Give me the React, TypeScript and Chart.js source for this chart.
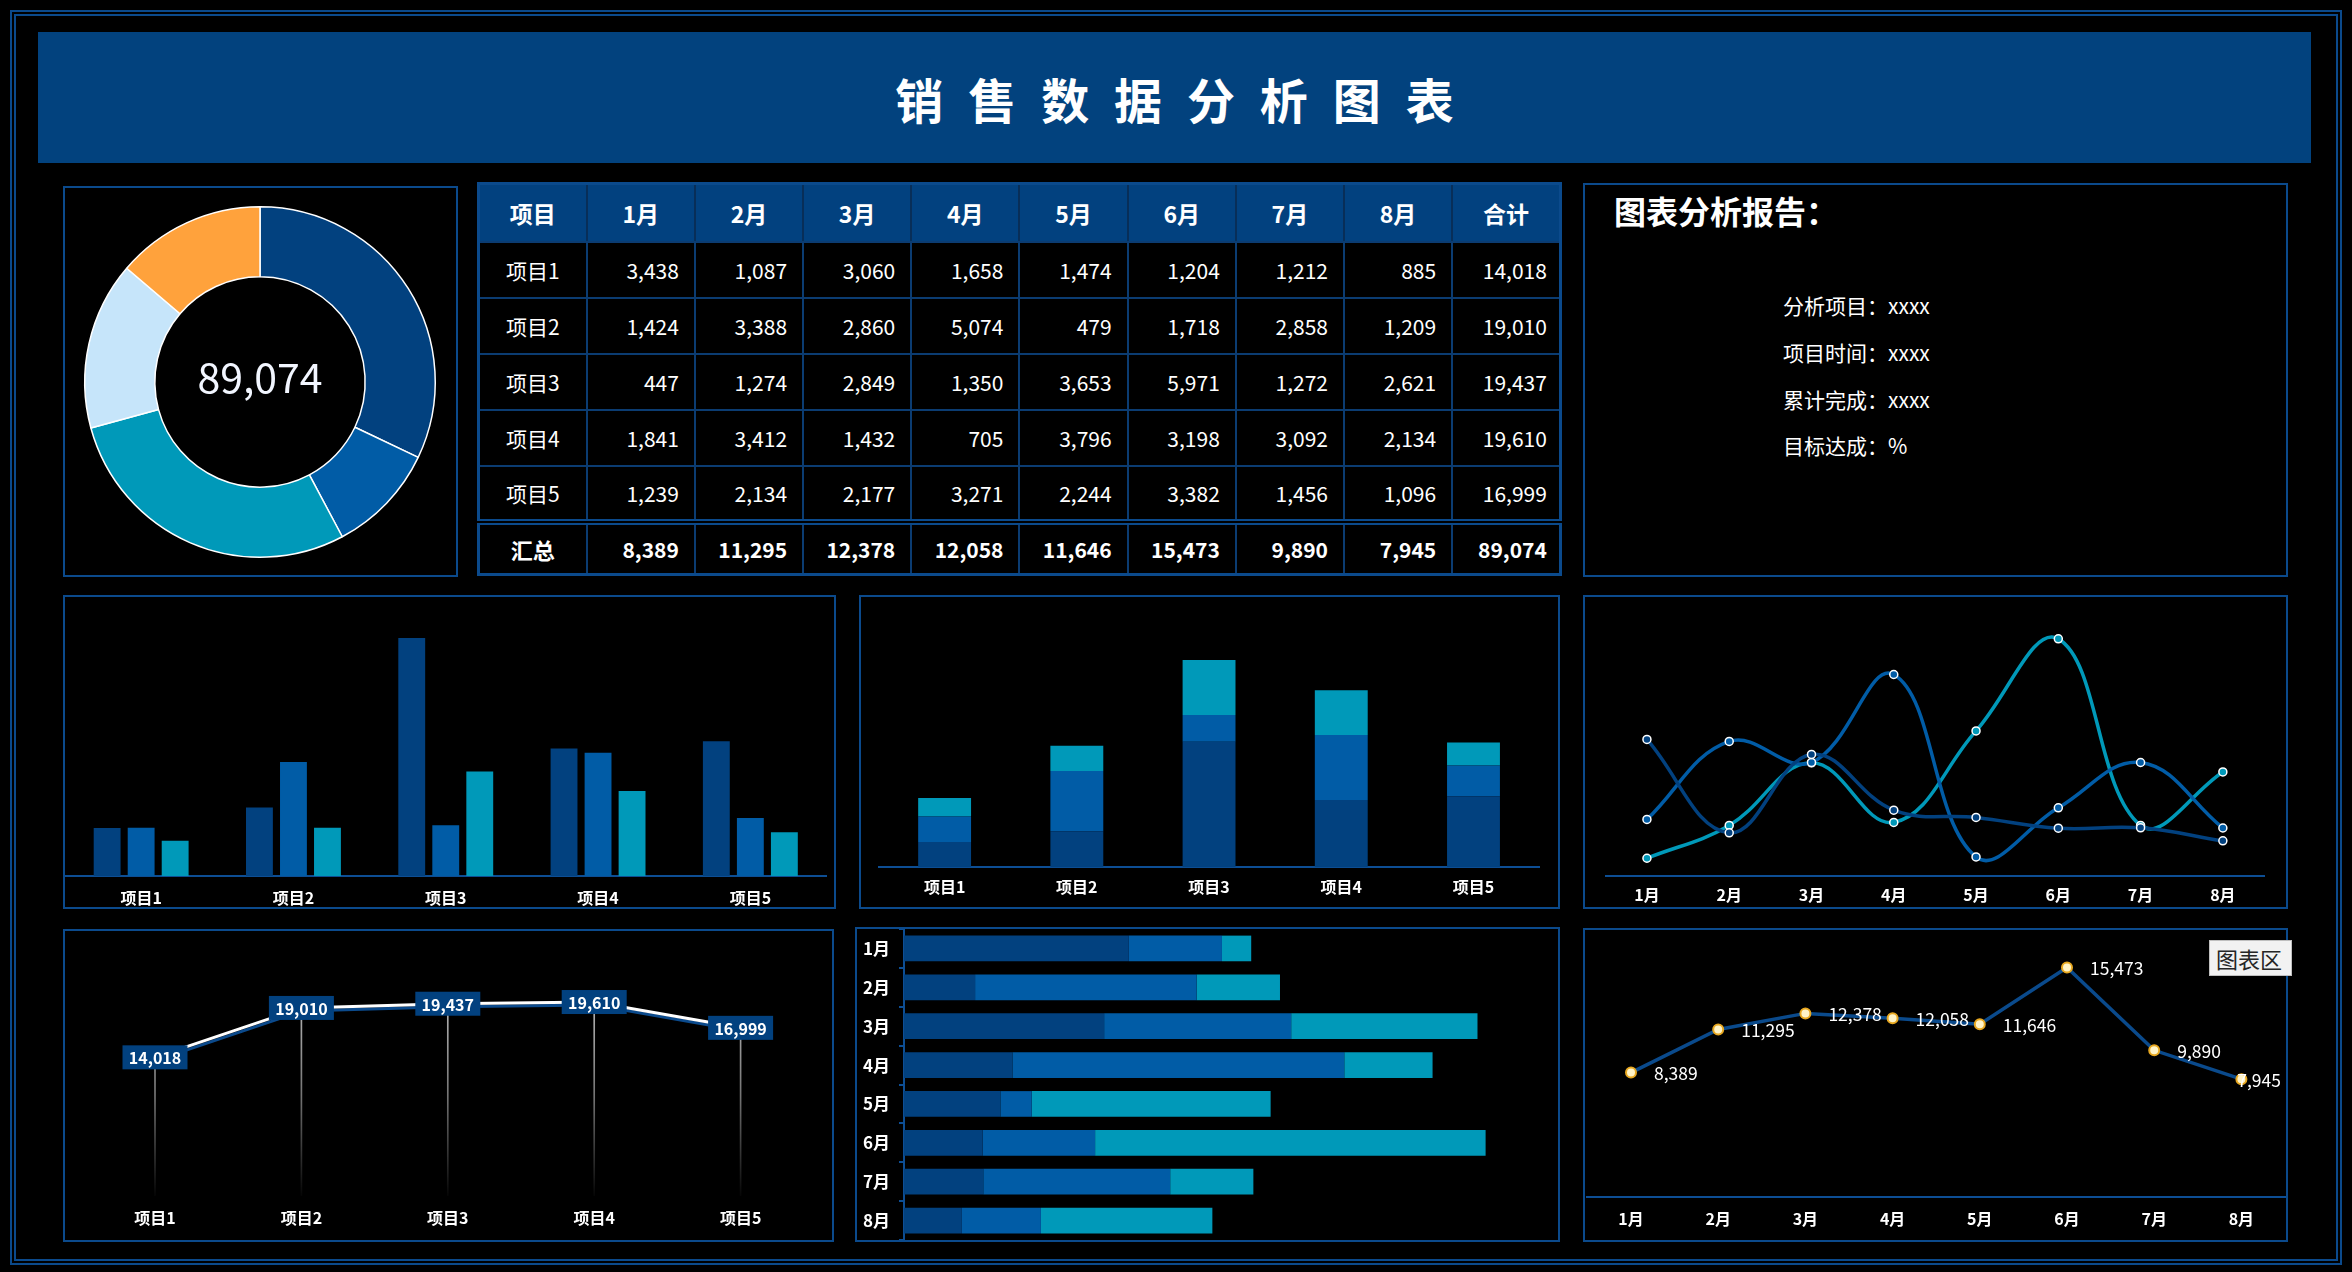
import React, { useEffect, useRef } from 'react';
import { Chart, registerables } from 'chart.js';

Chart.register(...registerables);

const FONT = '"Noto Sans CJK SC", "Noto Sans", sans-serif';
Chart.defaults.font.family = FONT;
Chart.defaults.color = '#ffffff';

// ---------------- data ----------------
const months = ['1月', '2月', '3月', '4月', '5月', '6月', '7月', '8月'];
const projects = ['项目1', '项目2', '项目3', '项目4', '项目5'];
const project1 = [3438, 1087, 3060, 1658, 1474, 1204, 1212, 885];
const project2 = [1424, 3388, 2860, 5074, 479, 1718, 2858, 1209];
const project3 = [447, 1274, 2849, 1350, 3653, 5971, 1272, 2621];
const project4 = [1841, 3412, 1432, 705, 3796, 3198, 3092, 2134];
const project5 = [1239, 2134, 2177, 3271, 2244, 3382, 1456, 1096];
const projectRows = [project1, project2, project3, project4, project5];
const headerLabels = ['项目', ...months, '合计'];
const totalLabel = '汇总';
const titleText = '销 售 数 据 分 析 图 表';
const reportTitle = '图表分析报告：';
const reportLines = ['分析项目：xxxx', '项目时间：xxxx', '累计完成：xxxx', '目标达成：%'];
const tooltipBoxText = '图表区';

const projectTotals = projectRows.map((r) => r.reduce((s, v) => s + v, 0));
const monthTotals = months.map((_, i) => projectRows.reduce((s, r) => s + r[i], 0));
const grandTotal = projectTotals.reduce((s, v) => s + v, 0);

// donut shows the first five months of 项目1
const donutLabels = months.slice(0, 5);
const donutValues = project1.slice(0, 5);
// grouped / stacked project charts use 6月, 7月, 8月
const juneByProject = projectRows.map((r) => r[5]);
const julyByProject = projectRows.map((r) => r[6]);
const augByProject = projectRows.map((r) => r[7]);

// ---------------- styles ----------------
const C1 = '#02417F';
const C2 = '#015CA6';
const C3 = '#0099B9';
const C_LIGHT = '#C6E5FA';
const C_ORANGE = '#FFA23C';
const FRAME = '#0B4A8C';
const AXIS = '#0D4E94';

const fmt = (n: number) => n.toLocaleString('en-US');

type BoxProps = { left: number; top: number; width: number; height: number; make: () => any };

function ChartBox({ left, top, width, height, make }: BoxProps) {
  const ref = useRef<HTMLCanvasElement | null>(null);
  useEffect(() => {
    const chart = new Chart(ref.current as HTMLCanvasElement, make());
    return () => chart.destroy();
  }, []);
  return (
    <canvas
      ref={ref}
      width={width}
      height={height}
      style={{ position: 'absolute', left, top, width, height }}
    />
  );
}

const baseOpts = {
  animation: false,
  responsive: false,
  maintainAspectRatio: false,
  devicePixelRatio: 1,
};
const noPlugins = { legend: { display: false }, tooltip: { enabled: false } };

function xCat(height: number, pad: number, showBorder = true) {
  return {
    grid: { display: false, drawTicks: false },
    border: { display: showBorder, color: AXIS, width: 2 },
    ticks: { color: '#ffffff', font: { size: 16, weight: 'bold', family: FONT }, padding: pad },
    afterFit: (s: any) => {
      s.height = height;
    },
  };
}

// ---------------- charts ----------------
const makeDonut = () => ({
  type: 'doughnut',
  data: {
    labels: donutLabels,
    datasets: [
      {
        data: donutValues,
        backgroundColor: [C1, C2, C3, C_LIGHT, C_ORANGE],
        borderColor: '#ffffff',
        borderWidth: 1.5,
      },
    ],
  },
  options: {
    ...baseOpts,
    cutout: '60%',
    layout: { padding: { left: 19, right: 20, top: 18, bottom: 17 } },
    plugins: noPlugins,
  },
  plugins: [
    {
      id: 'centerText',
      afterDraw(chart: any) {
        const { ctx, chartArea: a } = chart;
        ctx.save();
        ctx.font = `41px ${FONT}`;
        ctx.fillStyle = '#F2F6FF';
        ctx.textAlign = 'center';
        ctx.textBaseline = 'middle';
        ctx.fillText(fmt(grandTotal), (a.left + a.right) / 2, (a.top + a.bottom) / 2 - 5);
        ctx.restore();
      },
    },
  ],
});

const makeGrouped = () => ({
  type: 'bar',
  data: {
    labels: projects,
    datasets: [
      { data: juneByProject, backgroundColor: C1 },
      { data: julyByProject, backgroundColor: C2 },
      { data: augByProject, backgroundColor: C3 },
    ],
  },
  options: {
    ...baseOpts,
    categoryPercentage: 0.67,
    barPercentage: 0.79,
    layout: { padding: { left: 0, right: 7.5, top: 0, bottom: 0 } },
    plugins: noPlugins,
    scales: {
      x: xCat(31, 12.4),
      y: { display: false, min: 0, max: 7000 },
    },
  },
});

const makeStacked = () => ({
  type: 'bar',
  data: {
    labels: projects,
    datasets: [
      { data: juneByProject, backgroundColor: C1 },
      { data: julyByProject, backgroundColor: C2 },
      { data: augByProject, backgroundColor: C3 },
    ],
  },
  options: {
    ...baseOpts,
    categoryPercentage: 1,
    barPercentage: 0.4,
    layout: { padding: { left: 17.5, right: 18.4, top: 18, bottom: 0 } },
    plugins: noPlugins,
    scales: {
      x: { ...xCat(39.7, 9.8), stacked: true },
      y: { display: false, stacked: true, min: 0, max: 12000 },
    },
  },
});

const lineDs = (data: number[], color: string) => ({
  data,
  borderColor: color,
  backgroundColor: color,
  borderWidth: 3.5,
  tension: 0.4,
  pointRadius: 4,
  pointBackgroundColor: color,
  pointBorderColor: '#ffffff',
  pointBorderWidth: 1.5,
  clip: false,
});

const makeSmooth = () => ({
  type: 'line',
  data: {
    labels: months,
    datasets: [lineDs(project1, C1), lineDs(project2, C2), lineDs(project3, C3)],
  },
  options: {
    ...baseOpts,
    layout: { autoPadding: false, padding: { left: 20.8, right: 22, top: 1, bottom: 0 } },
    plugins: noPlugins,
    scales: {
      x: { ...xCat(31, 9.4), offset: true },
      y: { display: false, min: 0, max: 7000 },
    },
  },
});

const makeTotals = () => ({
  type: 'bar',
  data: {
    labels: projects,
    datasets: [
      {
        type: 'line',
        data: projectTotals,
        borderColor: '#ffffff',
        borderWidth: 3,
        tension: 0,
        pointRadius: 0,
        order: 1,
        clip: false,
      },
      {
        type: 'bar',
        data: projectTotals,
        barThickness: 1,
        order: 2,
        backgroundColor: (c: any) => {
          const a = c.chart.chartArea;
          if (!a) return 'rgba(255,255,255,0.5)';
          const g = c.chart.ctx.createLinearGradient(0, a.top, 0, a.bottom);
          g.addColorStop(0, 'rgba(255,255,255,0.85)');
          g.addColorStop(0.6, 'rgba(255,255,255,0.45)');
          g.addColorStop(1, 'rgba(255,255,255,0.02)');
          return g;
        },
      },
    ],
  },
  options: {
    ...baseOpts,
    layout: { autoPadding: false, padding: { left: 16.8, right: 18.2, top: 17.7, bottom: 0 } },
    plugins: noPlugins,
    scales: {
      x: { ...xCat(44, 12.1, false) },
      y: { display: false, min: 0, max: 25000 },
    },
  },
  plugins: [
    {
      id: 'lineShadow',
      beforeDatasetDraw(chart: any, args: any) {
        if (args.index !== 0) return;
        const ctx = chart.ctx;
        ctx.save();
        ctx.shadowColor = '#0B4A8C';
        ctx.shadowOffsetX = 1;
        ctx.shadowOffsetY = 3;
        ctx.shadowBlur = 0;
      },
      afterDatasetDraw(chart: any, args: any) {
        if (args.index !== 0) return;
        chart.ctx.restore();
      },
    },
    {
      id: 'boxLabels',
      afterDatasetsDraw(chart: any) {
        const ctx = chart.ctx;
        const meta = chart.getDatasetMeta(0);
        const values = chart.data.datasets[0].data;
        ctx.save();
        ctx.font = `bold 16px ${FONT}`;
        ctx.textAlign = 'center';
        ctx.textBaseline = 'middle';
        meta.data.forEach((pt: any, i: number) => {
          const w = 65;
          const h = 24;
          ctx.fillStyle = C1;
          ctx.fillRect(pt.x - w / 2, pt.y - h / 2, w, h);
          ctx.fillStyle = '#ffffff';
          ctx.fillText(fmt(values[i]), pt.x, pt.y + 1);
        });
        ctx.restore();
      },
    },
  ],
});

const makeHBar = () => ({
  type: 'bar',
  data: {
    labels: months,
    datasets: [
      { data: project1, backgroundColor: C1 },
      { data: project2, backgroundColor: C2 },
      { data: project3, backgroundColor: C3 },
    ],
  },
  options: {
    ...baseOpts,
    indexAxis: 'y',
    categoryPercentage: 1,
    barPercentage: 0.66,
    layout: { padding: 0 },
    plugins: noPlugins,
    scales: {
      x: { display: false, stacked: true, min: 0, max: 10000 },
      y: {
        stacked: true,
        grid: { display: true, drawOnChartArea: false, drawTicks: true, tickLength: 5, color: AXIS, lineWidth: 2, offset: true },
        border: { display: true, color: AXIS, width: 2 },
        ticks: { color: '#ffffff', font: { size: 17, weight: 'bold', family: FONT }, padding: 9 },
        afterFit: (s: any) => {
          s.width = 47;
          s.paddingTop = 0;
          s.paddingBottom = 0;
        },
      },
    },
  },
});

const makeMonthTotals = () => ({
  type: 'line',
  data: {
    labels: months,
    datasets: [
      {
        data: monthTotals,
        borderColor: '#0A4A8C',
        borderWidth: 3.5,
        tension: 0,
        pointRadius: 5,
        pointBackgroundColor: '#FFF4C8',
        pointBorderColor: '#E8A820',
        pointBorderWidth: 2,
        clip: false,
      },
    ],
  },
  options: {
    ...baseOpts,
    layout: { autoPadding: false, padding: { left: 2.4, right: 1, top: 0, bottom: 0 } },
    plugins: noPlugins,
    scales: {
      x: { ...xCat(43, 12.4), offset: true },
      y: { display: false, min: 0, max: 18000 },
    },
  },
  plugins: [
    {
      id: 'valueLabels',
      afterDatasetsDraw(chart: any) {
        const ctx = chart.ctx;
        const meta = chart.getDatasetMeta(0);
        const values = chart.data.datasets[0].data;
        ctx.save();
        ctx.font = `17.5px ${FONT}`;
        ctx.textAlign = 'left';
        ctx.textBaseline = 'middle';
        ctx.fillStyle = '#ffffff';
        meta.data.forEach((pt: any, i: number) => {
          const t = fmt(values[i]);
          const w = ctx.measureText(t).width;
          let x = pt.x + 23;
          if (x + w > chart.width - 5) x = chart.width - 5 - w;
          ctx.fillText(t, x, pt.y + 1);
        });
        ctx.restore();
      },
    },
  ],
});

// ---------------- layout ----------------
function Panel({ left, top, width, height }: { left: number; top: number; width: number; height: number }) {
  return (
    <div
      style={{
        position: 'absolute',
        left,
        top,
        width,
        height,
        border: `2px solid ${FRAME}`,
        boxSizing: 'border-box',
      }}
    />
  );
}

const cellBorder = '2px solid #0B3C72';

function DataTable() {
  const colW = 1082 / 10;
  return (
    <table
      style={{
        position: 'absolute',
        left: 477,
        top: 182,
        width: 1082,
        height: 394,
        borderCollapse: 'collapse',
        tableLayout: 'fixed',
        border: `3px solid ${FRAME}`,
        fontFamily: FONT,
        color: '#ffffff',
        background: '#000',
      }}
    >
      <colgroup>
        {headerLabels.map((h) => (
          <col key={h} style={{ width: colW }} />
        ))}
      </colgroup>
      <tbody>
        <tr style={{ height: 58 }}>
          {headerLabels.map((h) => (
            <td
              key={h}
              style={{
                background: C1,
                borderLeft: '2px solid #082E58',
                borderRight: '2px solid #082E58',
                borderBottom: cellBorder,
                textAlign: 'center',
                fontWeight: 'bold',
                fontSize: 23,
                padding: 0,
              }}
            >
              {h}
            </td>
          ))}
        </tr>
        {projectRows.map((row, ri) => (
          <tr key={ri} style={{ height: 56 }}>
            <td style={{ border: cellBorder, textAlign: 'center', fontSize: 21, padding: 0 }}>{projects[ri]}</td>
            {row.map((v, ci) => (
              <td key={ci} style={{ border: cellBorder, textAlign: 'right', fontSize: 21, paddingRight: 15, paddingLeft: 0 }}>
                {fmt(v)}
              </td>
            ))}
            <td style={{ border: cellBorder, textAlign: 'right', fontSize: 21, paddingRight: 12, paddingLeft: 0 }}>
              {fmt(projectTotals[ri])}
            </td>
          </tr>
        ))}
        <tr style={{ height: 52 }}>
          <td style={{ border: cellBorder, borderTop: `6px double ${FRAME}`, textAlign: 'center', fontSize: 22, fontWeight: 'bold', padding: 0 }}>
            {totalLabel}
          </td>
          {monthTotals.map((v, ci) => (
            <td
              key={ci}
              style={{ border: cellBorder, borderTop: `6px double ${FRAME}`, textAlign: 'right', fontSize: 21, fontWeight: 'bold', paddingRight: 15, paddingLeft: 0 }}
            >
              {fmt(v)}
            </td>
          ))}
          <td style={{ border: cellBorder, borderTop: `6px double ${FRAME}`, textAlign: 'right', fontSize: 21, fontWeight: 'bold', paddingRight: 12, paddingLeft: 0 }}>
            {fmt(grandTotal)}
          </td>
        </tr>
      </tbody>
    </table>
  );
}

export default function App() {
  useEffect(() => {
    document.body.style.margin = '0';
    document.body.style.background = '#000';
  }, []);
  const reportCenters = [304.7, 352, 398.7, 445.3];
  return (
    <div
      style={{
        position: 'absolute',
        left: 0,
        top: 0,
        width: 2352,
        height: 1272,
        background: '#000',
        overflow: 'hidden',
        fontFamily: FONT,
        color: '#fff',
      }}
    >
      {/* outer double frame */}
      <div style={{ position: 'absolute', left: 10, top: 10, width: 2332, height: 1255, border: `2px solid ${FRAME}`, boxSizing: 'border-box' }} />
      <div style={{ position: 'absolute', left: 14, top: 14, width: 2324, height: 1247, border: `2px solid ${FRAME}`, boxSizing: 'border-box' }} />

      {/* title */}
      <div
        style={{
          position: 'absolute',
          left: 38,
          top: 32,
          width: 2273,
          height: 131,
          background: '#02427E',
          display: 'flex',
          alignItems: 'center',
          justifyContent: 'center',
          fontSize: 48,
          fontWeight: 'bold',
          letterSpacing: 7,
          paddingLeft: 7,
          boxSizing: 'border-box',
          color: '#ffffff',
          whiteSpace: 'pre',
        }}
      >
        {titleText}
      </div>

      {/* panels */}
      <Panel left={63} top={186} width={395} height={391} />
      <Panel left={1583} top={183} width={705} height={394} />
      <Panel left={63} top={595} width={773} height={314} />
      <Panel left={859} top={595} width={701} height={314} />
      <Panel left={1583} top={595} width={705} height={314} />
      <Panel left={63} top={929} width={771} height={313} />
      <Panel left={855} top={927} width={705} height={315} />
      <Panel left={1583} top={928} width={705} height={314} />

      <DataTable />

      {/* report */}
      <div style={{ position: 'absolute', left: 1614, top: 190, height: 40, lineHeight: '40px', fontSize: 32, fontWeight: 'bold', whiteSpace: 'nowrap' }}>
        {reportTitle}
      </div>
      {reportLines.map((t, i) => (
        <div
          key={t}
          style={{ position: 'absolute', left: 1783, top: reportCenters[i] - 15, height: 30, lineHeight: '30px', fontSize: 21, whiteSpace: 'nowrap' }}
        >
          {t}
        </div>
      ))}

      {/* charts */}
      <ChartBox left={65} top={188} width={391} height={387} make={makeDonut} />
      <ChartBox left={65} top={597} width={769} height={310} make={makeGrouped} />
      <ChartBox left={861} top={597} width={697} height={310} make={makeStacked} />
      <ChartBox left={1585} top={597} width={701} height={310} make={makeSmooth} />
      <ChartBox left={65} top={931} width={767} height={309} make={makeTotals} />
      <ChartBox left={857} top={929} width={701} height={311} make={makeHBar} />
      <ChartBox left={1585} top={930} width={701} height={310} make={makeMonthTotals} />

      {/* Excel-style tooltip box */}
      <div
        style={{
          position: 'absolute',
          left: 2209,
          top: 940,
          width: 83,
          height: 36,
          background: '#F2F2F2',
          border: '1px solid #BFBFBF',
          boxSizing: 'border-box',
          color: '#262626',
          fontSize: 22,
          lineHeight: '34px',
          paddingLeft: 6,
          whiteSpace: 'nowrap',
        }}
      >
        {tooltipBoxText}
      </div>
    </div>
  );
}
